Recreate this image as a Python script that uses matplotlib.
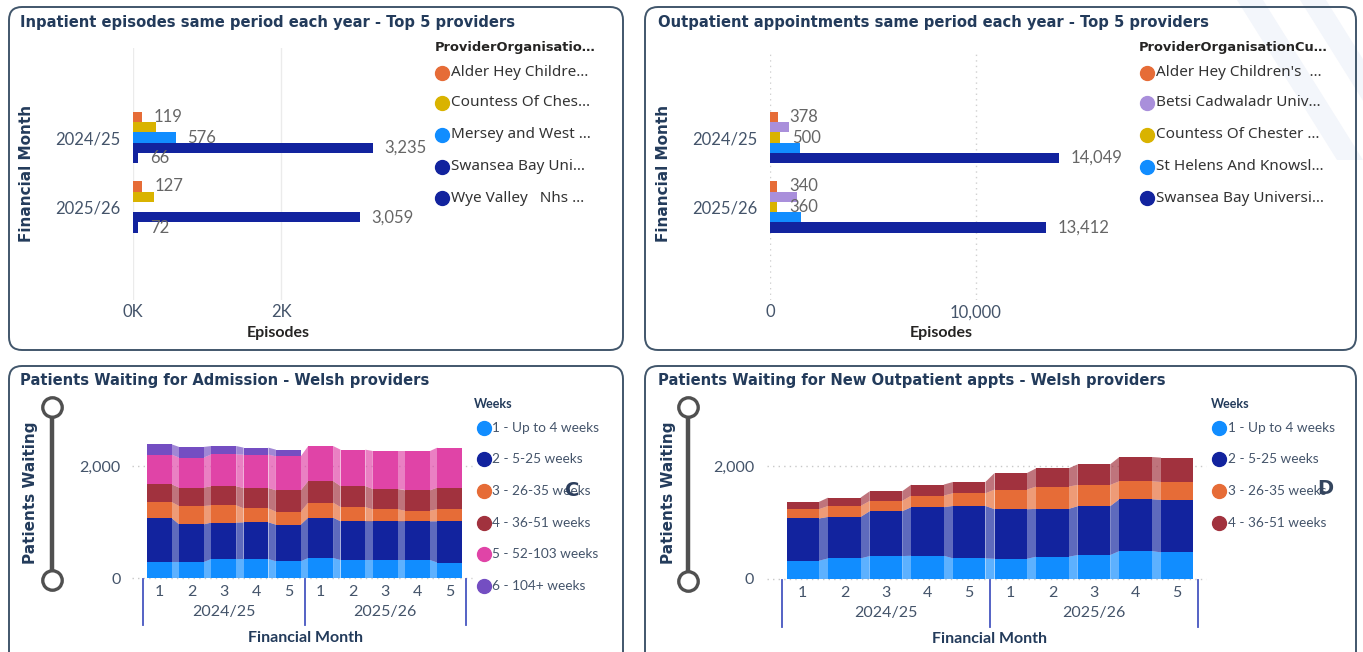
import numpy as np
import matplotlib
matplotlib.use("Agg")
import matplotlib.pyplot as plt
from matplotlib.patches import FancyBboxPatch, Polygon
from matplotlib.lines import Line2D
from matplotlib.transforms import IdentityTransform

W, H = 1363, 652

# ---- inpatient episodes, top 5 providers ----
years = ["2024/25", "2025/26"]
ip_legend = ["Alder Hey Childre\u2026", "Countess Of Ches\u2026", "Mersey and West \u2026",
             "Swansea Bay Uni\u2026", "Wye Valley   Nhs \u2026"]
ip_alder = [119, 127]
ip_countess = [310, 287]
ip_mersey = [576, 0]
ip_swansea = [3235, 3059]
ip_wye = [66, 72]
ip_show_label = [True, False, True, True, True]

# ---- outpatient appointments, top 5 providers ----
op_legend = ["Alder Hey Children's  \u2026", "Betsi Cadwaladr Univ\u2026", "Countess Of Chester \u2026",
             "St Helens And Knowsl\u2026", "Swansea Bay Universi\u2026"]
op_alder = [378, 340]
op_betsi = [930, 1295]
op_countess = [500, 360]
op_sthelens = [1480, 1520]
op_swansea = [14049, 13412]
op_show_label = [True, False, True, False, True]

# ---- waiting lists, Welsh providers (financial months 1-5 of each year) ----
months = ["1", "2", "3", "4", "5", "1", "2", "3", "4", "5"]
weeks_legend = ["1 - Up to 4 weeks", "2 - 5-25 weeks", "3 - 26-35 weeks",
                "4 - 36-51 weeks", "5 - 52-103 weeks", "6 - 104+ weeks"]
adm_w1 = [286, 286, 339, 339, 298, 357, 321, 321, 321, 275]
adm_w2 = [786, 673, 650, 655, 655, 721, 691, 691, 691, 738]
adm_w3 = [286, 327, 309, 250, 232, 268, 255, 214, 191, 214]
adm_w4 = [316, 329, 339, 363, 381, 386, 375, 363, 363, 388]
adm_w5 = [530, 536, 571, 596, 607, 625, 650, 679, 702, 714]
adm_w6 = [184, 190, 149, 125, 119, 0, 0, 0, 0, 0]

opw_w1 = [323, 365, 406, 411, 365, 358, 394, 424, 494, 471]
opw_w2 = [748, 734, 794, 860, 928, 877, 847, 865, 918, 928]
opw_w3 = [165, 194, 182, 206, 224, 348, 395, 376, 318, 318]
opw_w4 = [129, 148, 171, 194, 200, 293, 323, 365, 429, 431]

ORANGE, YELLOW, BLUE, NAVY = "#E66C37", "#D9B300", "#118DFF", "#12239E"
LILAC, DRED, PINK, PURPLE = "#A98FDB", "#A1323E", "#E044A7", "#744EC2"
week_colors = [BLUE, NAVY, ORANGE, DRED, PINK, PURPLE]

TITLE_C = "#233B5B"
TICK_C = "#44546A"
LABEL_C = "#666666"

fig = plt.figure(figsize=(W / 100, H / 100), dpi=100)
fig.patch.set_facecolor("white")


def box(left, top, right, bottom):
    return [left / W, 1 - bottom / H, (right - left) / W, (bottom - top) / H]


def ftext(x, y, s, **kw):
    return fig.text(x / W, 1 - y / H, s, **kw)


def panel(left, top, right, bottom):
    p = FancyBboxPatch((left, H - bottom), right - left, bottom - top,
                       boxstyle="round,pad=0,rounding_size=13",
                       transform=IdentityTransform(), facecolor="none",
                       edgecolor="#41566B", linewidth=1.4, zorder=5)
    fig.add_artist(p)


def dot(x, y, color, size=10):
    fig.add_artist(Line2D([x / W], [1 - y / H], transform=fig.transFigure, marker="o",
                          markersize=size, color=color, linestyle="none"))


def slider(x, ytop, ybot):
    fig.add_artist(Line2D([x / W, x / W], [1 - ytop / H, 1 - ybot / H], transform=fig.transFigure,
                          color="#505050", linewidth=3.2))
    fig.add_artist(Line2D([x / W, x / W], [1 - ytop / H, 1 - ybot / H], transform=fig.transFigure,
                          marker="o", markersize=14, markerfacecolor="white",
                          markeredgecolor="#505050", markeredgewidth=2.4, linestyle="none"))


# faint background stripes in the top right corner
for x0 in (1237, 1300):
    fig.add_artist(Polygon([(x0, H), (x0 + 26, H), (x0 + 126, H - 160), (x0 + 100, H - 160)],
                           transform=IdentityTransform(), facecolor="#F3F6FB",
                           edgecolor="none", zorder=0))


def hbar_panel(ax, series, colors, show, xmax):
    n = len(series)
    h = 0.148
    y = np.arange(len(years))
    for k, (vals, c) in enumerate(zip(series, colors)):
        pos = y + (k - (n - 1) / 2) * h
        ax.barh(pos, vals, height=h, color=c, zorder=3, linewidth=0)
        if show[k]:
            for p, v in zip(pos, vals):
                if v > 0:
                    ax.annotate(f"{v:,}", (v, p), xytext=(8.5, 0), textcoords="offset points",
                                va="center", ha="left", fontsize=12, color=LABEL_C,
                                family="Lato")
    ax.set_xlim(0, xmax)
    ax.set_ylim(2.338, -1.288)
    ax.set_yticks(y)
    ax.set_yticklabels(years, fontsize=12, color=TICK_C, family="Lato")
    ax.tick_params(axis="y", length=0, pad=9)
    ax.tick_params(axis="x", length=0, pad=3, labelsize=12, labelcolor=TICK_C)
    for lab in ax.get_xticklabels():
        lab.set_family("Lato")
    for s in ax.spines.values():
        s.set_visible(False)


# ---------------- panel A ----------------
panel(9, 7, 623, 350)
ftext(20, 22, "Inpatient episodes same period each year - Top 5 providers", fontsize=10.6,
      fontweight="bold", color=TITLE_C, va="center")
axA = fig.add_axes(box(133, 48, 420, 300))
hbar_panel(axA, [ip_alder, ip_countess, ip_mersey, ip_swansea, ip_wye],
           [ORANGE, YELLOW, BLUE, NAVY, NAVY], ip_show_label, 3870)
axA.set_xticks([0, 2000])
axA.set_xticklabels(["0K", "2K"])
axA.grid(axis="x", color="#EBEBEB", linewidth=1, zorder=0)
axA.set_axisbelow(True)
ftext(278, 333, "Episodes", fontsize=11.5, fontweight="bold", color="#252423",
      family="Lato", ha="center", va="center")
ftext(27, 173, "Financial Month", fontsize=11, fontweight="bold", color=TITLE_C,
      rotation=90, ha="center", va="center")
ftext(435, 47, "ProviderOrganisatio\u2026", fontsize=9.4, fontweight="bold", color="#252423",
      va="center")
for i, (lab, c) in enumerate(zip(ip_legend, [ORANGE, YELLOW, BLUE, NAVY, NAVY])):
    yy = [73, 103, 135, 167, 198][i]
    dot(441.5, yy, c, 10)
    ftext(451, yy, lab, fontsize=11, color="#333333", va="center", family="Noto Sans")

# ---------------- panel B ----------------
panel(645, 7, 1356, 350)
ftext(658, 22, "Outpatient appointments same period each year - Top 5 providers", fontsize=10.6,
      fontweight="bold", color=TITLE_C, va="center")
axB = fig.add_axes(box(770, 53, 1125, 300))
hbar_panel(axB, [op_alder, op_betsi, op_countess, op_sthelens, op_swansea],
           [ORANGE, LILAC, YELLOW, BLUE, NAVY], op_show_label, 17250)
axB.set_ylim(2.338, -1.216)
axB.set_xticks([0, 10000])
axB.set_xticklabels(["0", "10,000"])
axB.grid(axis="x", color="#D0D0D0", linewidth=1, linestyle=(0, (1, 3)), zorder=0)
axB.set_axisbelow(True)
ftext(941, 333, "Episodes", fontsize=11.5, fontweight="bold", color="#252423",
      family="Lato", ha="center", va="center")
ftext(663, 173, "Financial Month", fontsize=11, fontweight="bold", color=TITLE_C,
      rotation=90, ha="center", va="center")
ftext(1139, 47, "ProviderOrganisationCu\u2026", fontsize=9.4, fontweight="bold", color="#252423",
      va="center")
for i, (lab, c) in enumerate(zip(op_legend, [ORANGE, LILAC, YELLOW, BLUE, NAVY])):
    yy = [73, 103, 135, 167, 198][i]
    dot(1147, yy, c, 10)
    ftext(1156, yy, lab, fontsize=11, color="#333333", va="center", family="Noto Sans")


def ribbon_panel(ax, series, colors, w=0.77):
    n = len(series[0])
    x = np.arange(n)
    bottoms = np.zeros(n)
    for vals, c in zip(series, colors):
        vals = np.asarray(vals, dtype=float)
        ax.bar(x, vals, w, bottom=bottoms, color=c, linewidth=0, zorder=3)
        for i in range(n - 1):
            if vals[i] > 0 and vals[i + 1] > 0:
                pts = [(x[i] + w / 2, bottoms[i]), (x[i] + w / 2, bottoms[i] + vals[i]),
                       (x[i + 1] - w / 2, bottoms[i + 1] + vals[i + 1]),
                       (x[i + 1] - w / 2, bottoms[i + 1])]
                ax.add_patch(Polygon(pts, closed=True, facecolor=c, alpha=0.68,
                                     linewidth=0, zorder=2))
        bottoms += vals
    ax.set_xlim(-0.5, n - 0.5)
    ax.set_xticks([])
    ax.set_yticks([0, 2000])
    ax.set_yticklabels(["0", "2,000"], fontsize=11.5, color=TICK_C, family="Lato")
    ax.tick_params(axis="y", length=0)
    for yv in (0, 2000):
        ax.axhline(yv, xmin=-0.035, xmax=1.02, color="#C8C8C8", linewidth=1,
                   linestyle=(0, (1, 3)), zorder=1, clip_on=False)
    for s in ax.spines.values():
        s.set_visible(False)
    tr = ax.get_xaxis_transform()
    for i, m in enumerate(months):
        ax.text(i, -0.095, m, transform=tr, ha="center", va="center", fontsize=11.5,
                color=TICK_C, family="Lato")
    for j, yr in enumerate(years):
        ax.text(2 + 5 * j, -0.23, yr, transform=tr, ha="center", va="center", fontsize=11.5,
                color=TICK_C, family="Lato")
    for xs in (-0.5, 4.5, 9.5):
        ax.add_line(Line2D([xs, xs], [-0.01, -0.32], transform=tr, color="#4656C0",
                           linewidth=1.3, clip_on=False))


# ---------------- panel C ----------------
panel(9, 366, 623, 700)
ftext(20, 381, "Patients Waiting for Admission - Welsh providers", fontsize=10.6,
      fontweight="bold", color=TITLE_C, va="center")
axC = fig.add_axes(box(143, 430, 466, 578))
ribbon_panel(axC, [adm_w1, adm_w2, adm_w3, adm_w4, adm_w5, adm_w6], week_colors)
axC.set_ylim(0, 2643)
axC.tick_params(axis="y", pad=16)
slider(51.5, 406.5, 580)
ftext(31, 493, "Patients Waiting", fontsize=11, fontweight="bold", color=TITLE_C,
      rotation=90, ha="center", va="center")
ftext(305, 638, "Financial Month", fontsize=11.5, fontweight="bold", color=TITLE_C,
      family="Lato", ha="center", va="center")
ftext(474, 404, "Weeks", fontsize=9, fontweight="bold", color=TITLE_C, family="Lato",
      va="center")
for i, (lab, c) in enumerate(zip(weeks_legend, week_colors)):
    yy = [428, 459, 491, 523, 554, 586][i]
    dot(483.5, yy, c, 10)
    ftext(492, yy, lab, fontsize=9.8, color=TICK_C, va="center", family="Lato")
ftext(572, 491, "C", fontsize=14, fontweight="bold", color="#2C3E5C", ha="center", va="center")

# ---------------- panel D ----------------
panel(645, 366, 1356, 700)
ftext(658, 381, "Patients Waiting for New Outpatient appts - Welsh providers", fontsize=10.6,
      fontweight="bold", color=TITLE_C, va="center")
axD = fig.add_axes(box(782, 430, 1198, 579))
ribbon_panel(axD, [opw_w1, opw_w2, opw_w3, opw_w4], week_colors[:4], w=0.78)
axD.set_ylim(0, 2637)
axD.tick_params(axis="y", pad=20)
slider(688, 406.5, 580.5)
ftext(669, 493, "Patients Waiting", fontsize=11, fontweight="bold", color=TITLE_C,
      rotation=90, ha="center", va="center")
ftext(990, 639, "Financial Month", fontsize=11.5, fontweight="bold", color=TITLE_C,
      family="Lato", ha="center", va="center")
ftext(1211, 404, "Weeks", fontsize=9, fontweight="bold", color=TITLE_C, family="Lato",
      va="center")
for i, (lab, c) in enumerate(zip(weeks_legend[:4], week_colors[:4])):
    yy = [428, 459, 491, 523][i]
    dot(1219, yy, c, 10)
    ftext(1228, yy, lab, fontsize=9.8, color=TICK_C, va="center", family="Lato")
ftext(1325, 488, "D", fontsize=14, fontweight="bold", color="#34455E", ha="center", va="center")

fig.savefig("out.png", dpi=100)
